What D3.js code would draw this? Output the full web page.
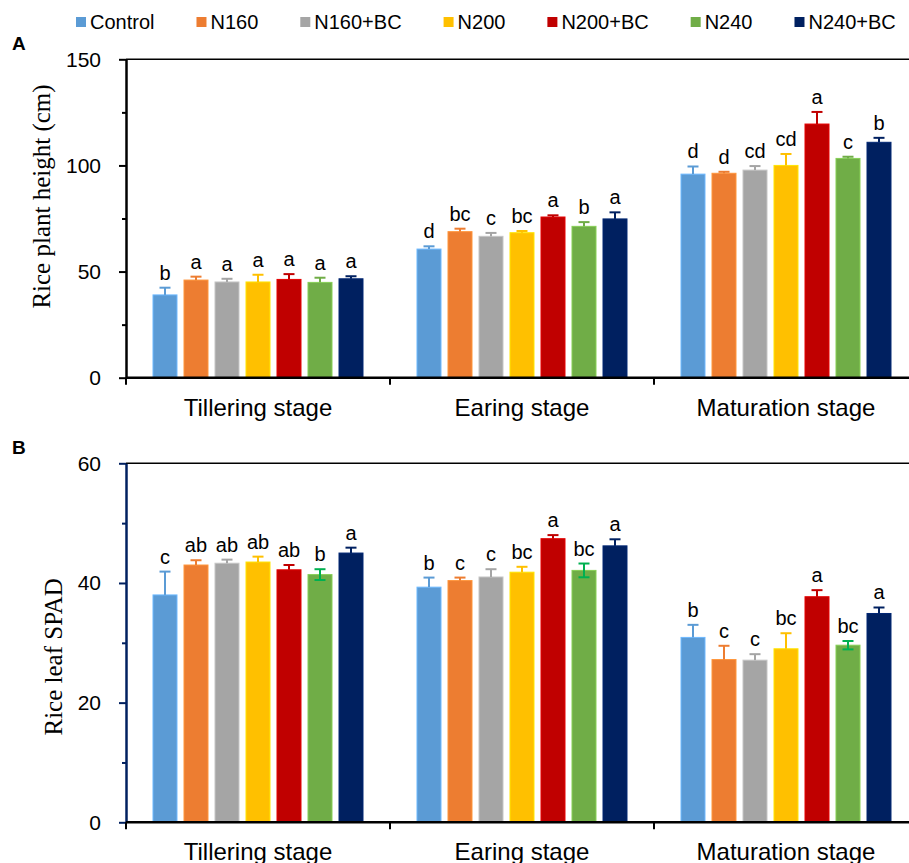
<!DOCTYPE html>
<html>
<head>
<meta charset="utf-8">
<script src="https://cdn.jsdelivr.net/npm/d3@7"></script>
<style>
  body { margin: 0; background: #fff; }
  svg { display: block; font-family: Arial, "Liberation Sans", sans-serif; }
</style>
</head>
<body>
<svg id="chart" width="909" height="863"></svg>
<script>
// ---- data ----
var stages = ['Tillering stage', 'Earing stage', 'Maturation stage'];
var treatments = ['Control', 'N160', 'N160+BC', 'N200', 'N200+BC', 'N240', 'N240+BC'];
var colors = ['#5B9BD5', '#ED7D31', '#A5A5A5', '#FFC000', '#C00000', '#70AD47', '#002060'];

// plant height (cm), rows = stage, cols = treatment
var heightMean = [
  [39.0, 46.0, 45.1, 45.1, 46.3, 44.9, 46.6],
  [60.6, 68.8, 66.6, 68.3, 75.7, 71.3, 74.8],
  [95.9, 96.3, 97.8, 100.0, 119.5, 103.3, 110.9]
];
var heightErr = [
  [3.4, 1.6, 1.5, 3.4, 2.5, 2.2, 1.2],
  [1.3, 1.4, 1.6, 0.8, 0.8, 2.0, 3.1],
  [3.6, 0.7, 1.9, 5.4, 5.7, 0.8, 2.1]
];
var heightSig = [
  ['b', 'a', 'a', 'a', 'a', 'a', 'a'],
  ['d', 'bc', 'c', 'bc', 'a', 'b', 'a'],
  ['d', 'd', 'cd', 'cd', 'a', 'c', 'b']
];

// leaf SPAD
var spadMean = [
  [38.0, 43.0, 43.3, 43.5, 42.2, 41.4, 45.0],
  [39.3, 40.4, 41.0, 41.8, 47.4, 42.1, 46.2],
  [30.9, 27.2, 27.1, 29.0, 37.7, 29.6, 34.9]
];
var spadErr = [
  [3.9, 0.8, 0.6, 0.9, 0.8, 0.9, 0.9],
  [1.6, 0.5, 1.3, 0.9, 0.6, 1.15, 1.1],
  [2.1, 2.3, 1.0, 2.6, 1.1, 0.7, 1.0]
];
var spadSig = [
  ['c', 'ab', 'ab', 'ab', 'ab', 'b', 'a'],
  ['b', 'c', 'c', 'bc', 'a', 'bc', 'a'],
  ['b', 'c', 'c', 'bc', 'a', 'bc', 'a']
];

var svg = d3.select('#chart');

// legend
var legend = svg.append('g').attr('class', 'legend');
var lx = 76;
treatments.forEach(function (t, i) {
  var item = legend.append('g').attr('transform', 'translate(' + lx + ',0)');
  item.append('rect').attr('x', 0).attr('y', 17).attr('width', 10).attr('height', 10)
    .style('fill', colors[i]);
  var txt = item.append('text').attr('x', 14).attr('y', 29)
    .style('font-size', '20px').style('fill', '#000').text(t);
  lx += 14 + txt.node().getComputedTextLength() + 42;
});

var x0 = d3.scaleBand().domain(stages).range([126, 918]);
var x1 = d3.scaleBand().domain(treatments)
  .range([0, x0.bandwidth()])
  .paddingInner(0.226)
  .paddingOuter(0.871);

function drawPanel(opt) {
  var y = d3.scaleLinear().domain([0, opt.max]).range([opt.bottom, opt.top]);
  var g = svg.append('g').attr('class', 'panel');

  // top frame line
  g.append('line').attr('x1', 126).attr('x2', 909).attr('y1', y(opt.max)).attr('y2', y(opt.max))
    .style('stroke', '#000').style('stroke-width', 1.5);

  // bars
  stages.forEach(function (s, si) {
    var sg = g.append('g').attr('transform', 'translate(' + x0(s) + ',0)');
    treatments.forEach(function (t, ti) {
      var v = opt.mean[si][ti], e = opt.err[si][ti];
      var cx = x1(t) + x1.bandwidth() / 2;
      sg.append('rect')
        .attr('x', x1(t)).attr('width', x1.bandwidth())
        .attr('y', y(v)).attr('height', y(0) - y(v))
        .style('fill', colors[ti])
        .style('stroke', d3.color(colors[ti]).brighter(0.5))
        .style('stroke-width', 1);
      var ec = opt.errColor(ti);
      var both = opt.bothSides(ti);
      var low = both ? y(v - e) : y(v);
      sg.append('line').attr('x1', cx).attr('x2', cx).attr('y1', low).attr('y2', y(v + e))
        .style('stroke', ec).style('stroke-width', 2);
      sg.append('line').attr('x1', cx - 5.5).attr('x2', cx + 5.5).attr('y1', y(v + e)).attr('y2', y(v + e))
        .style('stroke', ec).style('stroke-width', 2);
      if (both) {
        sg.append('line').attr('x1', cx - 5.5).attr('x2', cx + 5.5).attr('y1', low).attr('y2', low)
          .style('stroke', ec).style('stroke-width', 2);
      }
      sg.append('text').attr('x', cx).attr('y', y(v + e) - 8)
        .attr('text-anchor', 'middle').style('font-size', '20px').style('fill', '#000')
        .text(opt.sig[si][ti]);
    });
  });

  // y axis
  var yAxis = d3.axisLeft(y).tickValues(opt.major).tickSize(7).tickSizeOuter(0).tickPadding(18);
  var ya = g.append('g').attr('transform', 'translate(126,0)').call(yAxis);
  ya.select('.domain').style('stroke', opt.yColor).style('stroke-width', 2.5);
  ya.selectAll('.tick line').style('stroke', opt.yColor).style('stroke-width', 2);
  ya.selectAll('.tick text').style('font-size', '21px').style('fill', '#000')
    .style('font-family', 'Arial, "Liberation Sans", sans-serif');
  var minor = d3.axisLeft(y).tickValues(opt.minor).tickSize(4).tickSizeOuter(0).tickFormat('');
  var ym = g.append('g').attr('transform', 'translate(126,0)').call(minor);
  ym.select('.domain').remove();
  ym.selectAll('.tick line').style('stroke', opt.yColor).style('stroke-width', 2);

  // x axis
  g.append('line').attr('x1', 126).attr('x2', 909).attr('y1', y(0)).attr('y2', y(0))
    .style('stroke', '#000').style('stroke-width', 2.5);
  var bounds = stages.map(function (s) { return x0(s); }).concat([x0.range()[1]]);
  g.selectAll('line.xt').data(bounds).enter().append('line').attr('class', 'xt')
    .attr('x1', function (d) { return d; }).attr('x2', function (d) { return d; })
    .attr('y1', y(0)).attr('y2', y(0) + 7)
    .style('stroke', '#000').style('stroke-width', 2);
  g.selectAll('text.xl').data(stages).enter().append('text').attr('class', 'xl')
    .attr('x', function (d) { return x0(d) + x0.bandwidth() / 2; })
    .attr('y', y(0) + 38)
    .attr('text-anchor', 'middle').style('font-size', '24px').style('fill', '#000')
    .text(function (d) { return d; });

  // y title
  g.append('text')
    .attr('transform', 'translate(' + opt.titleX + ',' + ((opt.top + opt.bottom) / 2 - opt.titleShift) + ') rotate(-90)')
    .attr('text-anchor', 'middle')
    .style('font-family', '"Liberation Serif", "Times New Roman", serif')
    .style('font-size', '25px').style('fill', '#000')
    .text(opt.title);

  // panel letter
  g.append('text').attr('x', 12).attr('y', opt.letterY)
    .style('font-weight', 'bold').style('font-size', '19px').style('fill', '#000')
    .text(opt.letter);
}

drawPanel({
  max: 150, top: 59.3, bottom: 377.7,
  mean: heightMean, err: heightErr, sig: heightSig,
  major: [0, 50, 100, 150], minor: [25, 75, 125],
  yColor: '#000',
  errColor: function (i) { return colors[i]; },
  bothSides: function () { return false; },
  title: 'Rice plant height (cm)', titleX: 50, titleShift: 22,
  letter: 'A', letterY: 50
});

drawPanel({
  max: 60, top: 463.3, bottom: 822.3,
  mean: spadMean, err: spadErr, sig: spadSig,
  major: [0, 20, 40, 60], minor: [10, 30, 50],
  yColor: '#002060',
  errColor: function (i) { return i === 5 ? '#00B050' : colors[i]; },
  bothSides: function (i) { return i === 5; },
  title: 'Rice leaf SPAD', titleX: 62, titleShift: -14,
  letter: 'B', letterY: 454
});
</script>
</body>
</html>
